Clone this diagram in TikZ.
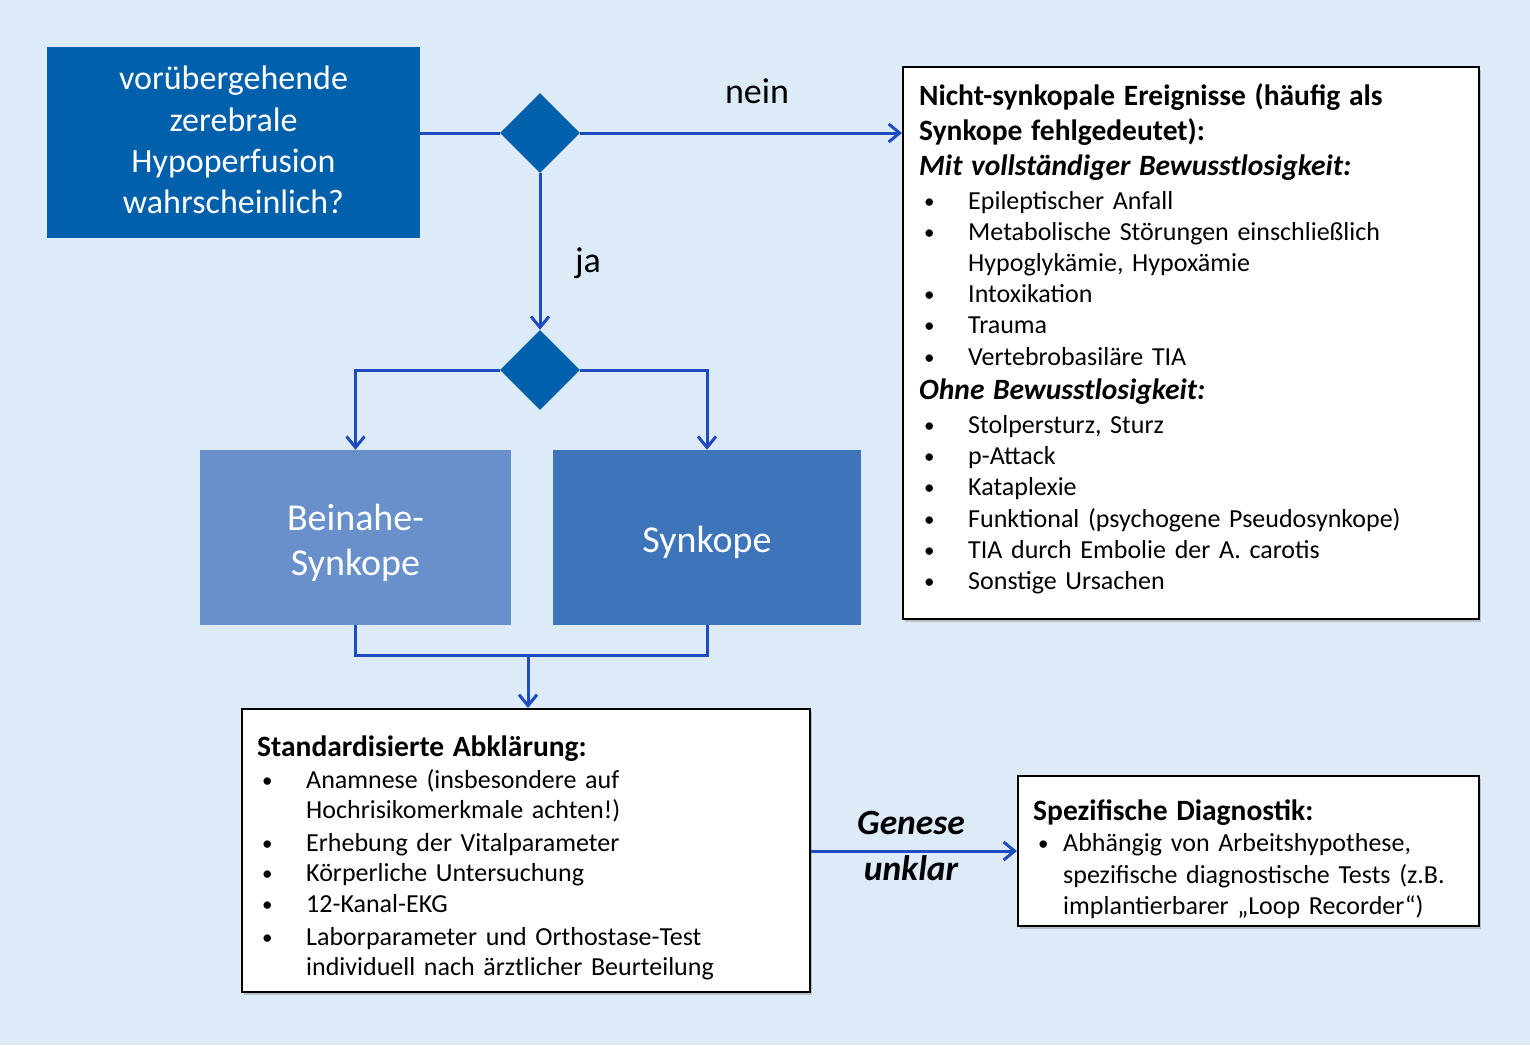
\documentclass[tikz,border=0pt]{standalone}
\usepackage{fontspec}
\setmainfont{Carlito}
\usetikzlibrary{arrows.meta,shapes.geometric,shadows}
\definecolor{bg}{RGB}{221,235,248}
\definecolor{dblue}{RGB}{0,96,172}
\definecolor{lblue}{RGB}{106,144,204}
\definecolor{mblue}{RGB}{61,116,186}
\definecolor{lnblue}{RGB}{30,76,192}
\newcommand\bul{\raisebox{1pt}{\fontsize{21}{21}\selectfont •}}
\newcommand\itm[2][49pt]{\hspace*{5pt}\makebox[\dimexpr#1-5pt\relax][l]{\bul}#2}
\newcommand\cnt[2][49pt]{\hspace*{#1}#2}
\newcommand\ftitle{\fontsize{29.5}{31}\selectfont\bfseries}
\begin{document}
\begin{tikzpicture}[x=1pt,y=-1pt,
  conn/.style={draw=lnblue,line width=3pt},
  arr/.style={conn,-{Straight Barb[length=11pt,width=18pt]}},
  dbox/.style={rectangle,fill=#1,inner sep=0pt},
  wtxt/.style={text=white,align=center,inner sep=0pt},
  wbox/.style={rectangle,draw=black,line width=2pt,fill=white,inner sep=0pt,
    drop shadow={shadow xshift=2pt,shadow yshift=-2.5pt,opacity=0.4}},
  dia/.style={diamond,fill=dblue,minimum width=80,minimum height=80,inner sep=0pt},
  lbl/.style={font=\fontsize{36}{40}\selectfont,inner sep=0pt},
  lbl2/.style={font=\fontsize{35.5}{40}\selectfont\bfseries\itshape,inner sep=0pt},
  txt/.style={inner sep=0pt,align=left}]
\useasboundingbox (0,0) rectangle (1530,1045);
\fill[bg] (0,0) rectangle (1530,1045);

% boxes
\node[dbox=dblue,minimum width=373,minimum height=191] (hyp) at (233.5,142.5) {};
\node[wtxt,font=\fontsize{34}{41.3}\selectfont] (hypt) at (233.5,140)
  {vorübergehende\\zerebrale\\Hypoperfusion\\wahrscheinlich?};
\node[dia] (d1) at (540,133) {};
\node[dia] (d2) at (540,370) {};
\node[dbox=lblue,minimum width=311,minimum height=175] (bein) at (355.5,537.5) {};
\node[wtxt,font=\fontsize{38}{45}\selectfont] (beint) at (355.5,542.5) {Beinahe-\\Synkope};
\node[dbox=mblue,minimum width=308,minimum height=175] (syn) at (707,537.5) {};
\node[wtxt,font=\fontsize{38}{45}\selectfont] (synt) at (707,542.5) {Synkope};
\node[wbox,minimum width=576,minimum height=552] (nsk) at (1191,343) {};
\node[wbox,minimum width=568,minimum height=283] (std) at (526,850.5) {};
\node[wbox,minimum width=461,minimum height=150] (spez) at (1248.5,851) {};

% texts in white boxes
\node[txt,anchor=base west,text width=555,font=\fontsize{26}{31.2}\selectfont] (nskt) at (919,105) {%
{\ftitle Nicht-synkopale Ereignisse (häufig als}\\[3.8pt]
{\ftitle Synkope fehlgedeutet):}\\[3.8pt]
{\ftitle\itshape Mit vollständiger Bewusstlosigkeit:}\\[2.8pt]
\itm{Epileptischer Anfall}\\
\itm{Metabolische Störungen einschließlich}\\
\cnt{Hypoglykämie, Hypoxämie}\\
\itm{Intoxikation}\\
\itm{Trauma}\\
\itm{Vertebrobasiläre TIA}\\[3pt]
{\ftitle\itshape Ohne Bewusstlosigkeit:}\\[3pt]
\itm{Stolpersturz, Sturz}\\
\itm{p-Attack}\\
\itm{Kataplexie}\\
\itm{Funktional (psychogene Pseudosynkope)}\\
\itm{TIA durch Embolie der A. carotis}\\
\itm{Sonstige Ursachen}};

\node[txt,anchor=base west,text width=545,font=\fontsize{26}{30}\selectfont] (stdt) at (257,756) {%
{\ftitle Standardisierte Abklärung:}\\[2.5pt]
\itm{Anamnese (insbesondere auf}\\
\cnt{Hochrisikomerkmale achten!)}\\[3pt]
\itm{Erhebung der Vitalparameter}\\
\itm{Körperliche Untersuchung}\\[1pt]
\itm{12-Kanal-EKG}\\[3pt]
\itm{Laborparameter und Orthostase-Test}\\
\cnt{individuell nach ärztlicher Beurteilung}};

\node[txt,anchor=base west,text width=440,font=\fontsize{26}{31.5}\selectfont] (spezt) at (1033,820) {%
{\ftitle Spezifische Diagnostik:}\\
\itm[30pt]{Abhängig von Arbeitshypothese,}\\
\cnt[30pt]{spezifische diagnostische Tests (z.B.}\\
\cnt[30pt]{implantierbarer „Loop Recorder“)}};

% labels
\node[lbl,anchor=base] (nein) at (757,103) {nein};
\node[lbl,anchor=base] (ja) at (588,272) {ja};
\node[lbl2,anchor=base] (gen) at (911,834) {Genese};
\node[lbl2,anchor=base] (unk) at (911,880) {unklar};

% connectors
\draw[conn] (hyp.east |- d1.west) -- (d1.west);
\draw[arr] (d1.east) -- (d1.east -| nsk.west);
\draw[arr] (d1.south) -- (d2.north);
\draw[arr] (d2.west) -| (bein.north);
\draw[arr] (d2.east) -| (syn.north);
\draw[conn] (bein.south) -- ++(0,30) -| (syn.south);
\coordinate (j) at (528,655);
\draw[arr] (j) -- (j |- std.north);
\draw[arr] (std.east |- spez.west) -- (spez.west);
\end{tikzpicture}
\end{document}
